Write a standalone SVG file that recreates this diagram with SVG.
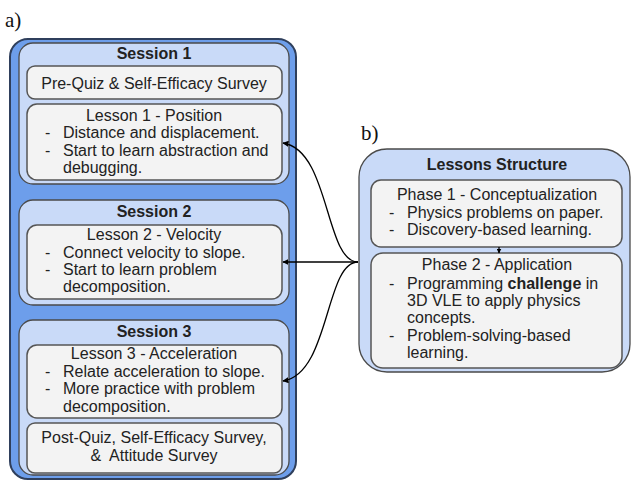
<svg xmlns="http://www.w3.org/2000/svg" width="633" height="481" viewBox="0 0 633 481">
  <defs>
    <marker id="arrow" viewBox="0 0 10 10" refX="9" refY="5" markerWidth="6" markerHeight="6" markerUnits="userSpaceOnUse" orient="auto">
      <path d="M0,0 L10,5 L0,10 z" fill="#000"/>
    </marker>
    <marker id="arrowSmall" viewBox="0 0 10 10" refX="9" refY="5" markerWidth="5" markerHeight="5" markerUnits="userSpaceOnUse" orient="auto">
      <path d="M0,0 L10,5 L0,10 z" fill="#000"/>
    </marker>
  </defs>
  <style>
    .outer { fill: #6d9eeb; stroke: #2f3f5c; stroke-width: 2; }
    .session { fill: #c9daf8; stroke: #4a4a4a; stroke-width: 1.3; }
    .card { fill: #f3f3f3; stroke: #555; stroke-width: 1.5; }
    text { font-family: "Liberation Sans", Arial, sans-serif; font-size: 16px; fill: #222; }
    .title { font-weight: bold; text-anchor: middle; }
    .mid { text-anchor: middle; }
    .label { font-family: "Liberation Serif", "Times New Roman", serif; font-size: 21px; fill: #111; }
    .conn { fill: none; stroke: #000; stroke-width: 1.3; }
  </style>
  <rect width="633" height="481" fill="#fff"/>

  <text class="label" x="5" y="27">a)</text>
  <text class="label" x="361" y="140">b)</text>

  <!-- Course sessions -->
  <g id="sessions">
    <rect class="outer" x="10" y="39" width="286" height="440" rx="18"/>
  </g>

  <g id="session1">
    <rect class="session" x="19" y="43" width="270" height="141" rx="14"/>
    <text class="title" x="154" y="59">Session 1</text>
  </g>
  <g id="prequiz">
    <rect class="card" x="27" y="66" width="255" height="33" rx="8"/>
    <text class="mid" x="154" y="89">Pre-Quiz &amp; Self-Efficacy Survey</text>
  </g>
  <g id="lesson1">
    <rect class="card" x="27" y="104" width="255" height="76" rx="10"/>
    <text class="mid" x="154" y="121">Lesson 1 - Position</text>
    <text x="45" y="138">-</text><text x="63" y="138">Distance and displacement.</text>
    <text x="45" y="156">-</text><text x="63" y="156">Start to learn abstraction and</text>
    <text x="63" y="173">debugging.</text>
  </g>

  <g id="session2">
    <rect class="session" x="19" y="200" width="270" height="105" rx="14"/>
    <text class="title" x="154" y="217">Session 2</text>
  </g>
  <g id="lesson2">
    <rect class="card" x="27" y="225" width="255" height="74" rx="10"/>
    <text class="mid" x="154" y="240">Lesson 2 - Velocity</text>
    <text x="45" y="258">-</text><text x="63" y="258">Connect velocity to slope.</text>
    <text x="45" y="275">-</text><text x="63" y="275">Start to learn problem</text>
    <text x="63" y="292">decomposition.</text>
  </g>

  <g id="session3">
    <rect class="session" x="19" y="320" width="270" height="155" rx="14"/>
    <text class="title" x="154" y="337">Session 3</text>
  </g>
  <g id="lesson3">
    <rect class="card" x="27" y="345" width="255" height="73" rx="10"/>
    <text class="mid" x="154" y="359">Lesson 3 - Acceleration</text>
    <text x="45" y="377">-</text><text x="63" y="377">Relate acceleration to slope.</text>
    <text x="45" y="394">-</text><text x="63" y="394">More practice with problem</text>
    <text x="63" y="412">decomposition.</text>
  </g>
  <g id="postquiz">
    <rect class="card" x="27" y="423" width="255" height="50" rx="8"/>
    <text class="mid" x="154" y="443">Post-Quiz, Self-Efficacy Survey,</text>
    <text class="mid" x="154" y="461" xml:space="preserve">&amp;  Attitude Survey</text>
  </g>

  <!-- Lesson structure -->
  <g id="lessons-structure">
    <rect class="session" x="359" y="149" width="271" height="223" rx="28"/>
    <text class="title" x="497" y="170">Lessons Structure</text>
  </g>
  <g id="phase1">
    <rect class="card" x="371" y="180" width="251" height="67" rx="10"/>
    <text class="mid" x="497" y="200">Phase 1 - Conceptualization</text>
    <text x="389" y="218">-</text><text x="407" y="218">Physics problems on paper.</text>
    <text x="389" y="235">-</text><text x="407" y="235">Discovery-based learning.</text>
  </g>
  <g id="phase2">
    <rect class="card" x="371" y="253" width="251" height="115" rx="12"/>
    <text class="mid" x="497" y="270">Phase 2 - Application</text>
    <text x="389" y="289">-</text><text x="407" y="289">Programming <tspan font-weight="bold">challenge</tspan> in</text>
    <text x="407" y="306">3D VLE to apply physics</text>
    <text x="407" y="323">concepts.</text>
    <text x="389" y="341">-</text><text x="407" y="341">Problem-solving-based</text>
    <text x="407" y="358">learning.</text>
  </g>

  <g id="connectors">
    <path class="conn" d="M499,247 L499,253" marker-end="url(#arrowSmall)"/>
    <path class="conn" d="M358,262 C325,262 330,150 283,143" marker-end="url(#arrow)"/>
    <path class="conn" d="M358,262 L283,262" marker-end="url(#arrow)"/>
    <path class="conn" d="M358,262 C325,262 330,374 283,381" marker-end="url(#arrow)"/>
  </g>
</svg>
